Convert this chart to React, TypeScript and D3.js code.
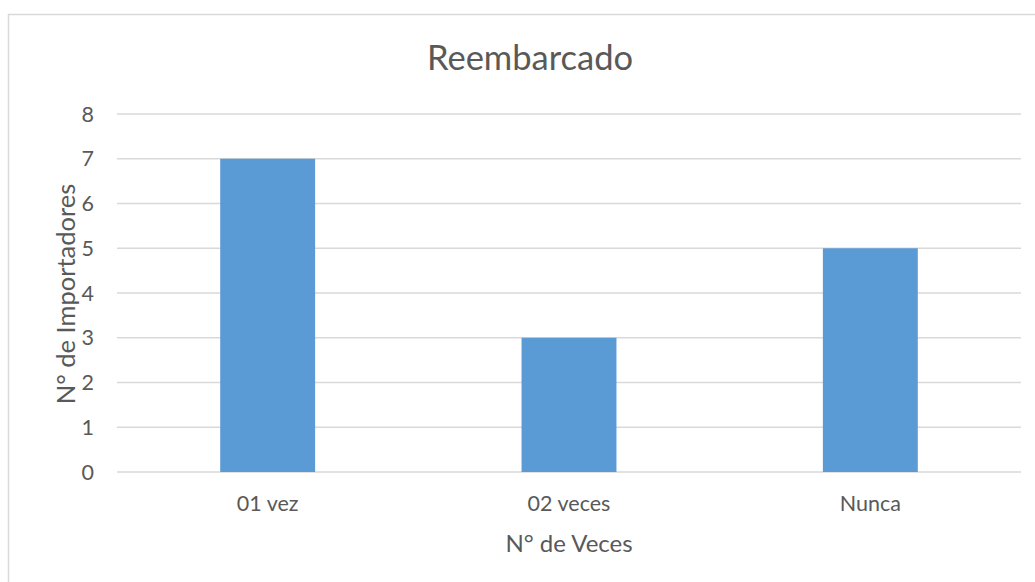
import React, { useEffect, useRef } from 'react';
import * as d3 from 'd3';

const categories = ['01 vez', '02 veces', 'Nunca'];
const values = [7, 3, 5];
const yTicks = [0, 1, 2, 3, 4, 5, 6, 7, 8];
const chartTitle = 'Reembarcado';
const xTitle = 'N° de Veces';
const yTitle = 'N° de Importadores';

const W = 1035;
const H = 582;
const FONT = 'Lato, "Open Sans", sans-serif';
const TEXT = '#595959';

export default function App() {
  const ref = useRef<SVGSVGElement | null>(null);

  useEffect(() => {
    const svg = d3.select(ref.current);
    svg.selectAll('*').remove();

    const left = 117, right = 1021, top = 114, bottom = 472;

    const x = d3.scaleBand<string>().domain(categories).range([left, right]).padding(0);
    const y = d3.scaleLinear().domain([0, 8]).range([bottom, top]);
    const barW = x.bandwidth() * 0.315;

    // chart border
    svg.append('rect')
      .attr('x', 8.5).attr('y', 14.5)
      .attr('width', W).attr('height', H)
      .attr('fill', '#fff')
      .attr('stroke', '#d9d9d9')
      .attr('stroke-width', 1.5);

    // gridlines
    svg.append('g')
      .selectAll('line')
      .data(yTicks)
      .enter()
      .append('line')
      .attr('x1', left).attr('x2', right)
      .attr('y1', d => y(d)).attr('y2', d => y(d))
      .attr('stroke', '#d9d9d9')
      .attr('stroke-width', 1.5);

    // bars
    svg.append('g')
      .selectAll('rect')
      .data(values)
      .enter()
      .append('rect')
      .attr('x', (d, i) => (x(categories[i]) as number) + x.bandwidth() / 2 - barW / 2)
      .attr('y', d => y(d))
      .attr('width', barW)
      .attr('height', d => bottom - y(d))
      .attr('fill', '#5b9bd5');

    // y tick labels
    svg.append('g')
      .selectAll('text')
      .data(yTicks)
      .enter()
      .append('text')
      .attr('x', 94)
      .attr('y', d => y(d))
      .attr('dy', '0.35em')
      .attr('text-anchor', 'end')
      .attr('font-family', FONT)
      .attr('font-size', 21.5)
      .attr('fill', TEXT)
      .text(d => d);

    // x category labels
    svg.append('g')
      .selectAll('text')
      .data(categories)
      .enter()
      .append('text')
      .attr('x', d => (x(d) as number) + x.bandwidth() / 2)
      .attr('y', 511)
      .attr('text-anchor', 'middle')
      .attr('font-family', FONT)
      .attr('font-size', 21.5)
      .attr('fill', TEXT)
      .text(d => d);

    svg.append('text')
      .attr('x', 530)
      .attr('y', 70)
      .attr('text-anchor', 'middle')
      .attr('font-family', FONT)
      .attr('font-size', 34.5)
      .attr('fill', TEXT)
      .text(chartTitle);

    svg.append('text')
      .attr('x', (left + right) / 2)
      .attr('y', 552)
      .attr('text-anchor', 'middle')
      .attr('font-family', FONT)
      .attr('font-size', 24)
      .attr('fill', TEXT)
      .text(xTitle);

    svg.append('text')
      .attr('transform', 'translate(75,294) rotate(-90)')
      .attr('text-anchor', 'middle')
      .attr('font-family', FONT)
      .attr('font-size', 25.5)
      .attr('fill', TEXT)
      .text(yTitle);
  }, []);

  return (
    <svg
      ref={ref}
      width={W}
      height={H}
      style={{ position: 'absolute', left: 0, top: 0, background: '#fff' }}
    />
  );
}
